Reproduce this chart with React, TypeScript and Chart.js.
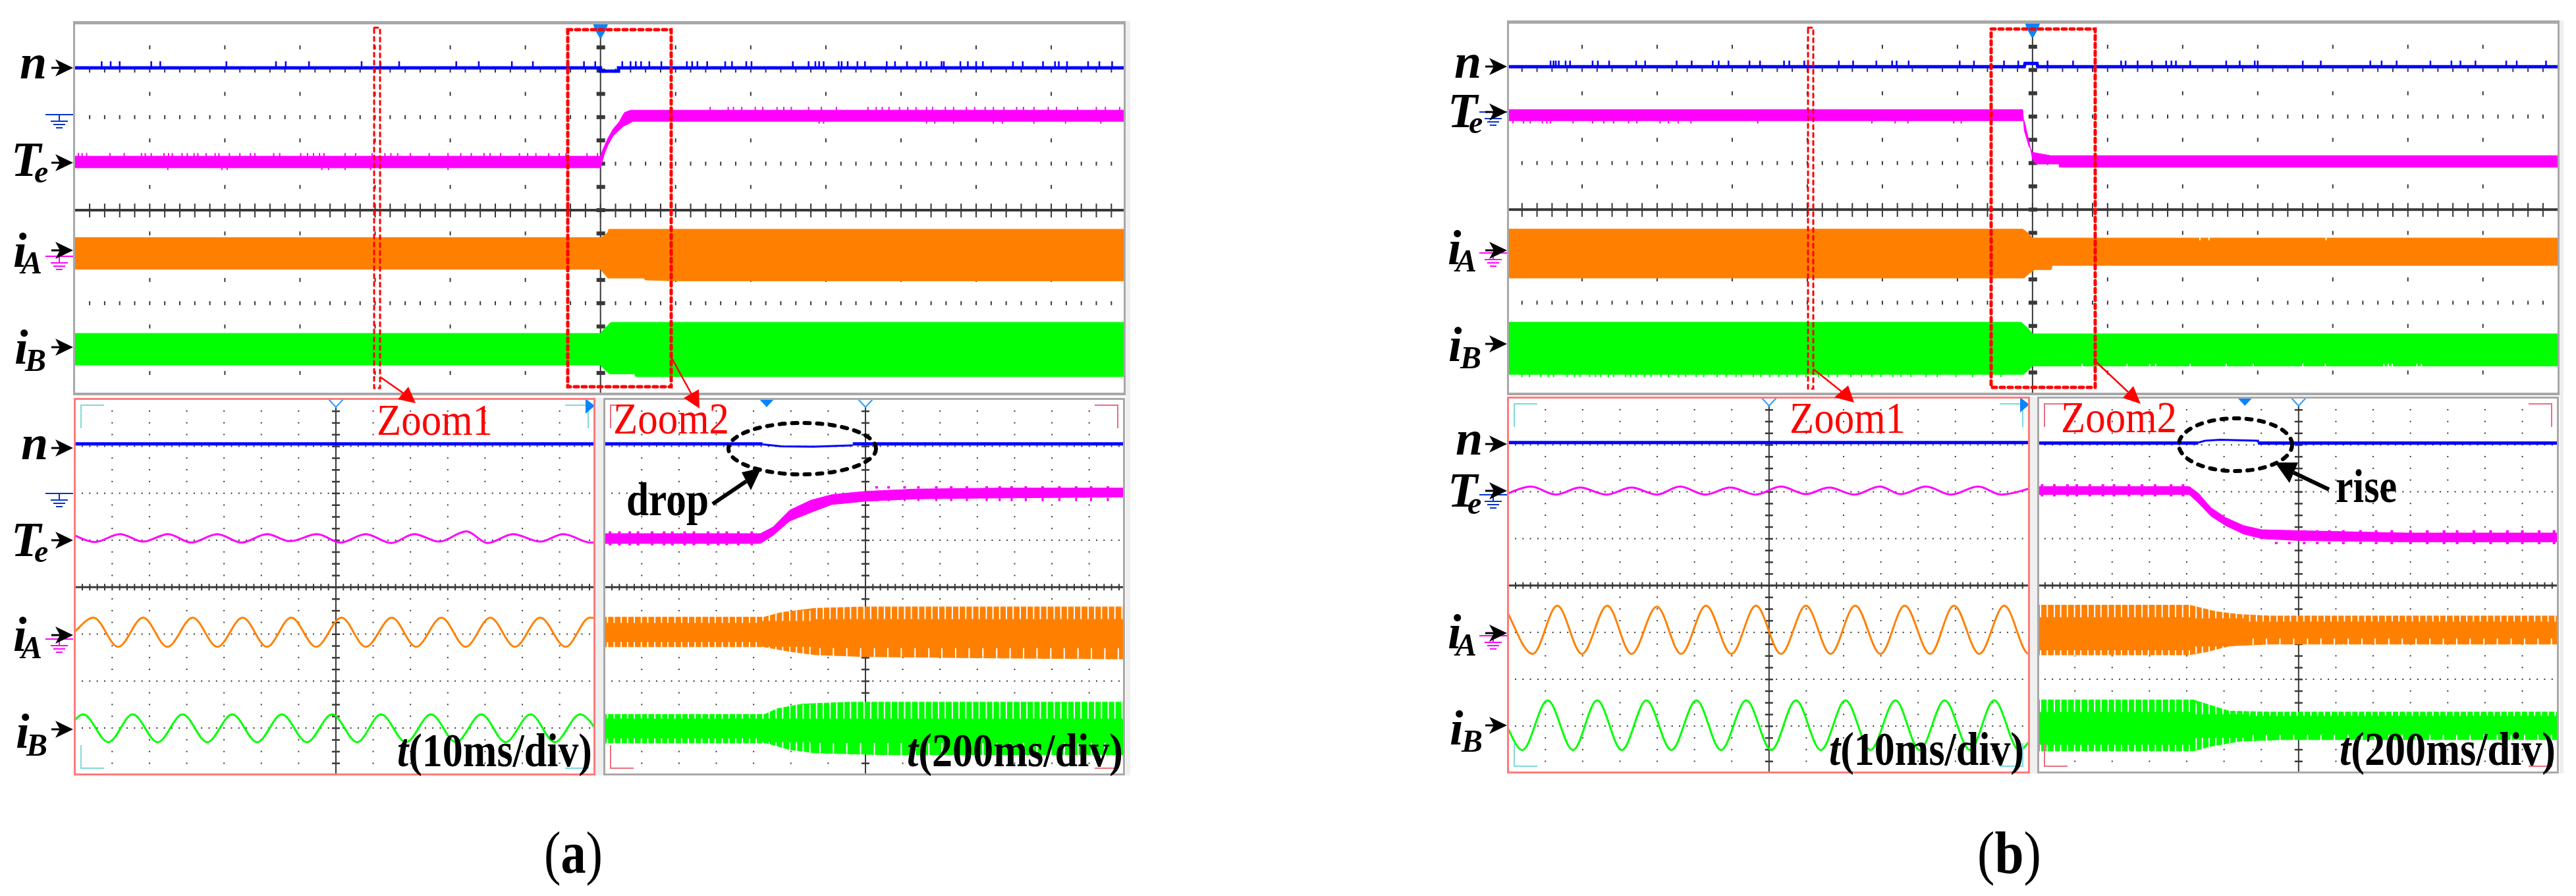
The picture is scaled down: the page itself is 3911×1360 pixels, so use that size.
import { useEffect, useRef } from "react"
import { Chart, registerables } from "chart.js"

Chart.register(...registerables)

type Pair = [number, number]

const BLUE = "#0000ff"
const MAGENTA = "#ff00ff"
const ORANGE = "#ff8000"
const GREEN = "#00ff00"
const GRAY = "#a8a8a8"
const SERIF = "'Liberation Serif', serif"

// ---- long record, figure (a), x and y in scope divisions ----
const topANLine: Pair[] = [[-7.1, 3.06], [0, 3.06], [0, 2.99], [0.24, 2.99], [0.24, 3.06], [7.1, 3.06]]
const topANSpikes = [-6.64, -6.52, -6.4, -5.98, -5.86, -4.98, -4.32, -4.19, -3.88, -3.18, -2.93, -2.68, -1.92, -1.62, -1.18, -0.9, -0.44, -0.22, -0.07, 0.29, 0.4, 0.47, 0.54, 0.65, 0.81, 1.15, 1.22, 1.29, 1.42, 1.66, 1.75, 1.94, 2.01, 2.56, 2.77, 2.86, 2.91, 2.97, 3.17, 3.21, 3.29, 3.42, 3.52, 3.81, 3.92, 4.08, 4.26, 4.34, 4.54, 4.57, 4.79, 4.89, 5.0, 5.09, 5.49, 5.62, 5.89, 6.05, 6.1, 6.21, 6.49, 6.64, 6.81]
const topATeUpper: Pair[] = [[-7.1, 1.16], [0, 1.16], [0.03, 1.3], [0.1, 1.55], [0.17, 1.75], [0.25, 1.9], [0.3, 2.05], [0.32, 2.1], [0.4, 2.15], [7.1, 2.15]]
const topATeLower: Pair[] = [[-7.1, 0.91], [0, 0.91], [0.05, 1.2], [0.1, 1.4], [0.17, 1.6], [0.3, 1.8], [0.4, 1.88], [0.43, 1.91], [7.1, 1.91]]
const topATeUpBefore = [-6.95, -6.9, -6.84, -6.53, -6.34, -6.11, -6.06, -5.98, -5.81, -5.75, -5.7, -5.57, -5.5, -5.41, -5.36, -5.25, -5.13, -5.08, -4.94, -4.8, -4.66, -4.6, -4.35, -4.27, -3.99, -3.9, -3.82, -3.74, -3.68, -3.4, -3.26, -3.04, -2.87, -2.79, -2.7, -2.53, -2.28, -2.03, -1.86, -1.72, -1.55, -1.47, -1.33, -1.08, -0.97, -0.86, -0.69, -0.55, -0.46, -0.18, -0.04]
const topATeUpAfter = [1.46, 1.7, 1.77, 1.88, 2.06, 2.16, 2.35, 2.44, 2.54, 2.77, 2.94, 3.14, 3.56, 3.67, 3.75, 3.84, 3.98, 4.09, 4.2, 4.34, 4.42, 4.59, 4.7, 4.87, 4.98, 5.12, 5.23, 5.37, 5.54, 5.63, 5.77, 5.96, 6.07, 6.35, 6.6, 6.72, 6.91]
const topATeDownBefore = [-5.76, -5.04, -4.97, -3.71, -3.62, -3.4, -3.06, -2.03]
const topATeDownAfter = [2.91, 2.97, 4.34, 4.45, 4.7, 5.23, 5.35, 5.77, 6.19, 6.66]
const topAIaUpper: Pair[] = [[-7.1, -0.59], [0, -0.59], [0.05, -0.55], [0.1, -0.47], [0.11, -0.41], [7.1, -0.41]]
const topAIaLower: Pair[] = [[-7.1, -1.27], [0, -1.27], [0.03, -1.33], [0.1, -1.46], [0.57, -1.46], [0.6, -1.5], [0.95, -1.52], [7.1, -1.52]]
const topAIbUpper: Pair[] = [[-7.1, -2.65], [0, -2.65], [0.05, -2.55], [0.14, -2.41], [7.1, -2.41]]
const topAIbLower: Pair[] = [[-7.1, -3.33], [0, -3.33], [0.05, -3.42], [0.12, -3.52], [0.45, -3.52], [0.47, -3.58], [7.1, -3.58]]

// ---- long record, figure (b) ----
const topBNLine: Pair[] = [[-7.1, 3.07], [-0.11, 3.07], [-0.1, 3.14], [0.06, 3.14], [0.07, 3.07], [7.1, 3.07]]
const topBNSpikes = [-6.42, -6.38, -6.35, -6.31, -6.22, -6.16, -5.86, -5.79, -5.64, -5.28, -5.16, -4.74, -4.54, -4.26, -4.18, -4.05, -3.77, -3.63, -3.31, -3.24, -3.04, -2.58, -2.39, -2.08, -1.87, -1.81, -1.65, -0.97, -0.78, -0.38, -0.19, 0.2, 0.54, 1.18, 1.24, 1.4, 1.59, 1.78, 1.85, 1.91, 2.1, 2.58, 2.76, 2.96, 3.0, 3.6, 3.84, 4.5, 4.65, 4.85, 5.3, 5.58, 5.7, 5.9, 6.31, 6.45, 6.84]
const topBTeUpper: Pair[] = [[-7.1, 2.15], [-0.13, 2.15], [-0.11, 1.7], [-0.05, 1.37], [0, 1.23], [0.24, 1.16], [7.1, 1.16]]
const topBTeLower: Pair[] = [[-7.1, 1.91], [-0.11, 1.91], [-0.05, 1.49], [0, 1.09], [0.04, 0.98], [0.35, 0.98], [0.36, 0.91], [7.1, 0.91]]
const topBTeDown = [-6.92, -6.78, -6.69, -6.53, -6.47, -6.42, -6.12, -5.86, -5.71, -5.58, -5.38, -5.27, -4.96, -4.85, -4.72, -4.55, -3.66, -2.14, -1.83, -1.66, -1.05, -0.95]
const topBIaUpper: Pair[] = [[-7.1, -0.42], [-0.13, -0.42], [-0.06, -0.5], [0, -0.61], [7.1, -0.61]]
const topBIaLower: Pair[] = [[-7.1, -1.47], [-0.11, -1.47], [-0.05, -1.38], [0.03, -1.29], [0.25, -1.29], [0.26, -1.2], [7.1, -1.2]]
const topBIaNotches = [2.23, 2.35, 3.91]
const topBIbUpper: Pair[] = [[-7.1, -2.42], [-0.15, -2.42], [-0.06, -2.55], [0, -2.67], [7.1, -2.67]]
const topBIbLower: Pair[] = [[-7.1, -3.54], [-0.12, -3.54], [-0.05, -3.44], [0, -3.36], [7.1, -3.36]]
const topBIbDown = [-6.8, -6.7, -6.55, -6.45, -6.38, -6.2, -6.1, -6.03, -5.9, -5.82, -5.75, -5.65, -5.58, -5.42, -5.35, -5.28, -5.17, -5.08, -4.95, -4.85, -4.72, -4.62, -4.48, -4.38, -4.2, -4.08, -3.95, -3.88, -3.72, -3.62, -3.5, -3.38, -3.27, -3.14, -3.02, -2.85, -2.72, -2.6, -2.42, -2.28, -2.14, -2.02, -1.86, -1.75, -1.62, -1.42, -1.27, -1.02, -0.8, -0.55, -0.42]
const topBIbNotches = [0.66, 1.26, 1.56, 1.64, 2.1, 2.58, 2.94, 3.6, 3.9, 4.68, 4.74, 4.79, 5.12, 5.18]

// ---- 10 ms/div zoom, figure (a): turning points of each wave ----
const zoomATeX = [-7.1, -6.47, -5.79, -5.17, -4.5, -3.88, -3.18, -2.53, -1.85, -1.23, -0.5, 0.12, 0.8, 1.48, 2.1, 2.77, 3.5, 4.07, 4.75, 5.48, 6.1, 6.83, 7.1]
const zoomATeY = [1.13, 0.96, 1.13, 0.97, 1.13, 0.95, 1.13, 0.95, 1.13, 0.98, 1.13, 0.95, 1.13, 0.94, 1.13, 0.97, 1.19, 0.94, 1.13, 0.97, 1.13, 0.95, 0.96]
const zoomAIaX = [-7.1, -6.5, -5.84, -5.17, -4.52, -3.84, -3.18, -2.5, -1.85, -1.2, -0.53, 0.15, 0.8, 1.5, 2.15, 2.83, 3.48, 4.14, 4.8, 5.48, 6.16, 6.81, 7.1]
const zoomAIaY = [-1.02, -0.65, -1.27, -0.65, -1.27, -0.65, -1.27, -0.65, -1.27, -0.65, -1.27, -0.65, -1.27, -0.65, -1.27, -0.65, -1.27, -0.65, -1.27, -0.65, -1.27, -0.65, -0.68]
const zoomAIbX = [-7.1, -6.78, -6.1, -5.45, -4.78, -4.11, -3.45, -2.78, -2.11, -1.45, -0.78, -0.1, 0.57, 1.21, 1.88, 2.55, 3.22, 3.9, 4.55, 5.22, 5.87, 6.55, 7.1]
const zoomAIbY = [-2.9, -2.71, -3.3, -2.71, -3.3, -2.71, -3.3, -2.71, -3.3, -2.71, -3.3, -2.71, -3.3, -2.71, -3.3, -2.71, -3.3, -2.71, -3.3, -2.71, -3.3, -2.71, -3.14]

// ---- 10 ms/div zoom, figure (b) ----
const zoomBTeX = [-7.1, -6.39, -5.72, -5.07, -4.36, -3.69, -3.01, -2.39, -1.71, -1.04, -0.36, 0.32, 0.99, 1.61, 2.29, 2.97, 3.53, 4.21, 4.88, 5.61, 6.23, 7.1]
const zoomBTeY = [1.94, 2.11, 1.94, 2.09, 1.94, 2.09, 1.94, 2.11, 1.94, 2.09, 1.94, 2.11, 1.95, 2.09, 1.94, 2.11, 1.95, 2.11, 1.94, 2.11, 1.94, 2.09]
const zoomBIaX = [-7.1, -6.34, -5.68, -5.02, -4.34, -3.69, -3.01, -2.36, -1.69, -1.01, -0.35, 0.32, 0.99, 1.65, 2.31, 2.99, 3.64, 4.32, 4.96, 5.64, 6.31, 6.97, 7.1]
const zoomBIaY = [-0.45, -1.46, -0.43, -1.46, -0.43, -1.46, -0.45, -1.46, -0.43, -1.46, -0.43, -1.46, -0.43, -1.46, -0.43, -1.46, -0.43, -1.46, -0.43, -1.46, -0.43, -1.46, -1.46]
const zoomBIbX = [-7.1, -6.62, -5.94, -5.26, -4.61, -3.95, -3.29, -2.62, -1.95, -1.29, -0.61, 0.06, 0.72, 1.39, 2.05, 2.72, 3.39, 4.04, 4.71, 5.39, 6.04, 6.71, 7.1]
const zoomBIbY = [-2.91, -3.51, -2.45, -3.51, -2.45, -3.51, -2.45, -3.51, -2.45, -3.51, -2.45, -3.51, -2.45, -3.51, -2.45, -3.51, -2.45, -3.51, -2.45, -3.51, -2.45, -3.51, -3.22]

// ---- 200 ms/div zoom, figure (a) ----
const slowANBefore: Pair[] = [[-7.1, 3.05], [-2.76, 3.05]]
const slowANDip: Pair[] = [[-2.76, 3.04], [-2.25, 3.0], [-1.4, 2.99], [-0.34, 3.02]]
const slowANAfter: Pair[] = [[-0.34, 3.05], [7.1, 3.05]]
const slowATeUpper: Pair[] = [[-7.1, 1.14], [-2.82, 1.14], [-2.48, 1.28], [-2.03, 1.64], [-1.47, 1.85], [-0.9, 1.97], [0, 2.04], [1.35, 2.09], [3.6, 2.11], [7.1, 2.11]]
const slowATeLower: Pair[] = [[-7.1, 0.93], [-2.82, 0.93], [-2.48, 1.1], [-2.03, 1.41], [-1.47, 1.59], [-0.9, 1.76], [0, 1.83], [1.35, 1.88], [3.6, 1.9], [7.1, 1.92]]
const slowATeJitterBefore = [-6.85, -6.6, -6.32, -6.1, -5.72, -5.4, -5.18, -4.85, -4.6, -4.22, -3.95, -3.72, -3.41, -3.05]
const slowATeJitterAfter = [0.3, 0.62, 1.05, 1.42, 1.9, 2.3, 2.72, 3.25, 3.6, 3.92, 4.3, 4.75, 5.2, 5.65, 6.05, 6.5]
const slowAIaUpper: Pair[] = [[-7.1, -0.64], [-2.72, -0.64], [-2.26, -0.54], [-1.35, -0.45], [0, -0.42], [7.1, -0.42]]
const slowAIaLower: Pair[] = [[-7.1, -1.27], [-2.72, -1.27], [-2.03, -1.37], [-1.35, -1.44], [0, -1.48], [3.6, -1.51], [7.1, -1.53]]
const slowAIbUpper: Pair[] = [[-7.1, -2.71], [-2.7, -2.71], [-2.37, -2.59], [-1.69, -2.49], [-0.45, -2.45], [7.1, -2.45]]
const slowAIbLower: Pair[] = [[-7.1, -3.32], [-2.65, -3.32], [-2.03, -3.46], [-1.35, -3.53], [0.5, -3.57], [7.1, -3.57]]

// ---- 200 ms/div zoom, figure (b) ----
const slowBNBefore: Pair[] = [[-7.1, 3.04], [-2.69, 3.04]]
const slowBNRise: Pair[] = [[-2.69, 3.05], [-2.5, 3.09], [-2.1, 3.11], [-1.09, 3.09], [-1.09, 3.05]]
const slowBNAfter: Pair[] = [[-1.09, 3.04], [7.1, 3.04]]
const slowBTeUpper: Pair[] = [[-7.1, 2.11], [-2.93, 2.11], [-2.69, 1.97], [-2.35, 1.66], [-1.96, 1.45], [-1.48, 1.28], [-0.99, 1.19], [0, 1.17], [2.89, 1.12], [7.1, 1.12]]
const slowBTeLower: Pair[] = [[-7.1, 1.94], [-2.93, 1.94], [-2.69, 1.76], [-2.35, 1.48], [-1.96, 1.28], [-1.48, 1.1], [-0.99, 1.0], [0, 0.96], [2.89, 0.93], [7.1, 0.93]]
const slowBTeJitterBefore = [-6.88, -6.55, -6.2, -5.95, -5.6, -5.25, -4.95, -4.55, -4.2, -3.85, -3.42, -3.1]
const slowBTeJitterAfter = [-0.6, -0.25, 0.15, 0.5, 0.82, 1.2, 1.66, 2.08, 2.5, 3.0, 3.45, 3.9, 4.25, 4.7, 5.15, 5.6, 6.0, 6.45, 6.85]
const slowBIaUpper: Pair[] = [[-7.1, -0.42], [-2.93, -0.42], [-2.2, -0.56], [-1.57, -0.62], [-0.8, -0.65], [7.1, -0.65]]
const slowBIaLower: Pair[] = [[-7.1, -1.48], [-2.93, -1.48], [-2.45, -1.41], [-1.86, -1.29], [-0.8, -1.25], [7.1, -1.25]]
const slowBIbUpper: Pair[] = [[-7.1, -2.44], [-2.83, -2.44], [-2.35, -2.56], [-1.86, -2.68], [-0.8, -2.7], [7.1, -2.7]]
const slowBIbLower: Pair[] = [[-7.1, -3.53], [-2.83, -3.53], [-2.35, -3.43], [-1.57, -3.32], [-0.5, -3.29], [7.1, -3.29]]

// PWM comb on the fast currents, read along the 200 ms/div records
const combBefore = [-6.92, -6.74, -6.55, -6.38, -6.2, -6.01, -5.84, -5.65, -5.47, -5.3, -5.11, -4.93, -4.75, -4.57, -4.39, -4.2, -4.03, -3.84, -3.66, -3.48, -3.3, -3.11, -2.93]
const combMid = [-2.75, -2.58, -2.4, -2.22, -2.03, -1.85, -1.67, -1.49]
const combAfter = [-1.31, -1.13, -0.95, -0.77, -0.58, -0.4, -0.22, -0.04, 0.14, 0.33, 0.51, 0.69, 0.87, 1.05, 1.23, 1.42, 1.6, 1.78, 1.96, 2.14, 2.33, 2.51, 2.69, 2.87, 3.05, 3.24, 3.42, 3.6, 3.78, 3.96, 4.15, 4.33, 4.51, 4.69, 4.87, 5.06, 5.24, 5.42, 5.6, 5.78, 5.97, 6.15, 6.33, 6.51, 6.69, 6.88]
const combSparse = [-1.22, -0.86, -0.5, -0.13, 0.24, 0.6, 0.96, 1.33, 1.7, 2.05, 2.42, 2.78, 3.15, 3.52, 3.88, 4.24, 4.6, 4.97, 5.33, 5.7, 6.06, 6.42, 6.78]

const pairs = (list: Pair[]) => list.map(([x, y]) => ({ x, y }))

const trace = (list: Pair[], color: string, borderWidth: number, extra = {}) => ({
  data: pairs(list),
  borderColor: color,
  backgroundColor: color,
  borderWidth,
  pointRadius: 0,
  tension: 0,
  fill: false,
  ...extra,
})

const band = (upper: Pair[], lower: Pair[], color: string) => [
  trace(upper, color, 1, { fill: "+1" }),
  trace(lower, color, 1),
]

const wave = (xs: number[], ys: number[], color: string, borderWidth: number) =>
  trace(xs.map((x, i): Pair => [x, ys[i]]), color, borderWidth, { cubicInterpolationMode: "monotone" })

// little vertical strokes, broken with null so that each stands alone
const strokes = (xs: number[], from: number, to: number, color: string, borderWidth = 2) => ({
  data: xs.flatMap((x) => [{ x, y: from }, { x, y: to }, { x, y: null }]),
  borderColor: color,
  backgroundColor: color,
  borderWidth,
  pointRadius: 0,
  tension: 0,
  fill: false,
  spanGaps: false,
})

const WHITE = "#ffffff"

// the first dataset is painted last, so strokes come before their band
const topADatasets = [
  trace(topANLine, BLUE, 5),
  strokes(topANSpikes, 3.06, 3.2, BLUE, 2.5),
  strokes(topATeUpBefore, 1.16, 1.23, MAGENTA),
  strokes(topATeUpAfter, 2.15, 2.22, MAGENTA),
  strokes(topATeDownBefore, 0.91, 0.86, MAGENTA),
  strokes(topATeDownAfter, 1.91, 1.86, MAGENTA),
  ...band(topATeUpper, topATeLower, MAGENTA),
  ...band(topAIaUpper, topAIaLower, ORANGE),
  ...band(topAIbUpper, topAIbLower, GREEN),
]

const topBDatasets = [
  trace(topBNLine, BLUE, 5),
  strokes(topBNSpikes, 3.07, 3.2, BLUE, 2.5),
  strokes(topBTeDown, 1.91, 1.85, MAGENTA),
  strokes(topBIaNotches, -0.6, -0.66, WHITE),
  strokes(topBIbDown, -3.54, -3.6, GREEN),
  strokes(topBIbNotches, -3.37, -3.31, WHITE),
  ...band(topBTeUpper, topBTeLower, MAGENTA),
  ...band(topBIaUpper, topBIaLower, ORANGE),
  ...band(topBIbUpper, topBIbLower, GREEN),
]

const zoomADatasets = [
  trace([[-7.1, 3.05], [7.1, 3.05]], BLUE, 5),
  wave(zoomATeX, zoomATeY, MAGENTA, 3),
  wave(zoomAIaX, zoomAIaY, ORANGE, 3),
  wave(zoomAIbX, zoomAIbY, GREEN, 3),
]

const zoomBDatasets = [
  trace([[-7.1, 3.05], [7.1, 3.05]], BLUE, 5),
  wave(zoomBTeX, zoomBTeY, MAGENTA, 3),
  wave(zoomBIaX, zoomBIaY, ORANGE, 3),
  wave(zoomBIbX, zoomBIbY, GREEN, 3),
]

const slowADatasets = [
  trace(slowANBefore, BLUE, 5),
  trace(slowANDip, BLUE, 3),
  trace(slowANAfter, BLUE, 5),
  strokes(slowATeJitterBefore, 1.14, 1.19, MAGENTA, 4),
  strokes(slowATeJitterBefore, 0.93, 0.89, MAGENTA, 4),
  strokes(slowATeJitterAfter, 2.1, 2.15, MAGENTA, 4),
  strokes(slowATeJitterAfter, 1.9, 1.83, MAGENTA, 3),
  strokes(combBefore, -0.62, -0.76, WHITE),
  strokes(combBefore, -1.29, -1.17, WHITE),
  strokes(combMid, -0.5, -0.72, WHITE),
  strokes(combMid, -1.5, -1.27, WHITE),
  strokes(combAfter, -0.4, -0.68, WHITE),
  strokes(combSparse, -1.56, -1.3, WHITE),
  strokes(combBefore, -2.69, -2.8, WHITE),
  strokes(combBefore, -3.34, -3.22, WHITE),
  strokes(combMid, -2.5, -2.8, WHITE),
  strokes(combMid, -3.55, -3.3, WHITE),
  strokes(combAfter, -2.43, -2.8, WHITE),
  strokes(combSparse, -3.59, -3.32, WHITE),
  ...band(slowATeUpper, slowATeLower, MAGENTA),
  ...band(slowAIaUpper, slowAIaLower, ORANGE),
  ...band(slowAIbUpper, slowAIbLower, GREEN),
]

const slowBDatasets = [
  trace(slowBNBefore, BLUE, 5),
  trace(slowBNRise, BLUE, 3),
  trace(slowBNAfter, BLUE, 5),
  strokes(slowBTeJitterBefore, 2.11, 2.16, MAGENTA, 4),
  strokes(slowBTeJitterBefore, 1.94, 1.9, MAGENTA, 4),
  strokes(slowBTeJitterAfter, 1.12, 1.18, MAGENTA, 4),
  strokes(slowBTeJitterAfter, 0.93, 0.88, MAGENTA, 4),
  strokes(combBefore, -0.4, -0.68, WHITE),
  strokes(combBefore, -1.5, -1.38, WHITE),
  strokes(combMid, -0.45, -0.7, WHITE),
  strokes(combMid, -1.45, -1.3, WHITE),
  strokes(combAfter, -0.63, -0.77, WHITE),
  strokes(combSparse, -1.27, -1.13, WHITE),
  strokes(combBefore, -2.42, -2.7, WHITE),
  strokes(combBefore, -3.55, -3.4, WHITE),
  strokes(combMid, -2.5, -2.75, WHITE),
  strokes(combMid, -3.5, -3.25, WHITE),
  strokes(combAfter, -2.68, -2.78, WHITE),
  strokes(combSparse, -3.31, -3.18, WHITE),
  ...band(slowBTeUpper, slowBTeLower, MAGENTA),
  ...band(slowBIaUpper, slowBIaLower, ORANGE),
  ...band(slowBIbUpper, slowBIbLower, GREEN),
]

interface PanelProps {
  left: number
  top: number
  width: number
  height: number
  xRange: Pair
  yRange: Pair
  style: "long" | "zoom"
  frame: string
  corner?: string
  cursor?: number
  sideMark?: boolean
  datasets: any[]
}

const MAJOR_ROWS = [3, 2, 1, -1, -2, -3]

function makeGraticule(p: PanelProps) {
  return {
    id: "graticule",
    beforeDatasetsDraw(chart: any) {
      const { ctx, chartArea: a } = chart
      const sx = chart.scales.x
      const sy = chart.scales.y
      const px = (v: number) => sx.getPixelForValue(v)
      const py = (v: number) => sy.getPixelForValue(v)
      ctx.save()
      ctx.fillStyle = "#383838"
      if (p.style === "long") {
        for (let x = -6; x <= 6; x++) {
          if (x === 0) continue
          for (const y of [3.5, 2.5, 1.5, 0.5, -0.5, -1.5, -2.5, -3.5]) ctx.fillRect(px(x) - 1, py(y) - 3, 2, 6)
        }
        for (const y of MAJOR_ROWS) {
          for (let i = -34; i <= 34; i++) ctx.fillRect(px(i * 0.2) - 1, py(y) - 3, 2, 6)
        }
        ctx.fillRect(px(0) - 1, a.top, 2, a.bottom - a.top)
        for (let i = -7; i <= 7; i++) ctx.fillRect(px(0) - 6, py(i * 0.5) - 3, 13, 6)
        for (let i = -34; i <= 34; i++) ctx.fillRect(px(i * 0.2) - 1, py(0) - 10, 2, 21)
        ctx.fillRect(a.left, py(0) - 2, a.right - a.left, 4)
      } else {
        for (let x = -6; x <= 6; x++) {
          if (x === 0) continue
          for (let i = -15; i <= 15; i++) {
            if (i % 4 !== 0) ctx.fillRect(px(x) - 1, py(i * 0.25) - 1, 2, 2)
          }
        }
        for (const y of MAJOR_ROWS) {
          for (let i = -34; i <= 34; i++) ctx.fillRect(px(i * 0.2) - 1, py(y) - 1, 2, 2)
        }
        ctx.fillRect(px(0) - 1, a.top, 2, a.bottom - a.top)
        for (let i = -15; i <= 15; i++) ctx.fillRect(px(0) - 6, py(i * 0.25) - 1, 12, 2.5)
        for (let i = -34; i <= 34; i++) ctx.fillRect(px(i * 0.2) - 1, py(0) - 5, 2, 10)
        ctx.fillRect(a.left, py(0) - 1.5, a.right - a.left, 3)
      }
      ctx.restore()
    },
    afterDatasetsDraw(chart: any) {
      const { ctx, chartArea: a } = chart
      const sx = chart.scales.x
      const cx = sx.getPixelForValue(0)
      ctx.save()
      // corner brackets of the zoom windows
      if (p.corner) {
        const inset = 11
        const len = 35
        ctx.strokeStyle = p.corner
        ctx.lineWidth = 2
        ctx.beginPath()
        for (const [ex, ey, dx, dy] of [
          [a.left + inset, a.top + inset, 1, 1],
          [a.right - inset, a.top + inset, -1, 1],
          [a.left + inset, a.bottom - inset, 1, -1],
          [a.right - inset, a.bottom - inset, -1, -1],
        ]) {
          ctx.moveTo(ex + dx * len, ey)
          ctx.lineTo(ex, ey)
          ctx.lineTo(ex, ey + dy * len)
        }
        ctx.stroke()
      }
      // trigger marks along the top edge
      if (p.style === "long") {
        ctx.fillStyle = "#0a84ff"
        ctx.beginPath()
        ctx.moveTo(cx - 13, a.top)
        ctx.lineTo(cx + 13, a.top)
        ctx.lineTo(cx + 8, a.top + 14)
        ctx.lineTo(cx + 1, a.top + 26)
        ctx.lineTo(cx - 1, a.top + 26)
        ctx.lineTo(cx - 8, a.top + 14)
        ctx.closePath()
        ctx.fill()
      } else {
        ctx.strokeStyle = "#2a9bff"
        ctx.fillStyle = WHITE
        ctx.lineWidth = 2
        ctx.beginPath()
        ctx.moveTo(cx - 12, a.top + 1)
        ctx.lineTo(cx + 12, a.top + 1)
        ctx.lineTo(cx, a.top + 14)
        ctx.closePath()
        ctx.fill()
        ctx.stroke()
      }
      if (p.cursor !== undefined) {
        const mx = sx.getPixelForValue(p.cursor)
        ctx.fillStyle = "#0a84ff"
        ctx.beginPath()
        ctx.moveTo(mx - 13, a.top)
        ctx.lineTo(mx + 13, a.top)
        ctx.lineTo(mx, a.top + 14)
        ctx.closePath()
        ctx.fill()
      }
      if (p.sideMark) {
        ctx.fillStyle = "#0a84ff"
        ctx.beginPath()
        ctx.moveTo(a.right - 15, a.top + 1)
        ctx.lineTo(a.right - 1, a.top + 12)
        ctx.lineTo(a.right - 15, a.top + 24)
        ctx.closePath()
        ctx.fill()
      }
      // frame
      ctx.strokeStyle = p.frame
      ctx.lineWidth = 3
      ctx.strokeRect(a.left + 1.5, a.top + 1.5, a.right - a.left - 3, a.bottom - a.top - 3)
      if (p.style === "long") {
        ctx.fillStyle = p.frame
        ctx.fillRect(a.left, a.top, a.right - a.left, 5)
        ctx.fillRect(a.left, a.bottom - 4, a.right - a.left, 4)
      }
      ctx.restore()
    },
  }
}

function ScopePanel(props: PanelProps) {
  const canvasRef = useRef<HTMLCanvasElement | null>(null)

  useEffect(() => {
    if (!canvasRef.current) return
    const chart = new Chart(canvasRef.current, {
      type: "line",
      data: { datasets: props.datasets },
      options: {
        animation: false,
        responsive: false,
        devicePixelRatio: 1,
        layout: { padding: 0 },
        scales: {
          x: { type: "linear", min: props.xRange[0], max: props.xRange[1], display: false },
          y: { type: "linear", min: props.yRange[0], max: props.yRange[1], display: false },
        },
        plugins: { legend: { display: false }, tooltip: { enabled: false } },
      },
      plugins: [makeGraticule(props)],
    })
    return () => chart.destroy()
  }, [])

  return (
    <canvas
      ref={canvasRef}
      width={props.width}
      height={props.height}
      style={{ position: "absolute", left: props.left, top: props.top, width: props.width, height: props.height }}
    />
  )
}

function Label(props: { x: number; y: number; main: string; sub?: string; subDx?: number; subY?: number }) {
  return (
    <g fontFamily={SERIF} fontWeight="bold" fontStyle="italic" fill="#000">
      <text x={props.x} y={props.y} fontSize={74}>{props.main}</text>
      {props.sub && <text x={props.x + (props.subDx ?? 18)} y={props.subY} fontSize={48}>{props.sub}</text>}
    </g>
  )
}

function InArrow({ x, y }: { x: number; y: number }) {
  return (
    <g>
      <line x1={x - 33} y1={y} x2={x - 10} y2={y} stroke="#000" strokeWidth={3} />
      <polygon points={`${x},${y} ${x - 27},${y + 13} ${x - 20},${y} ${x - 27},${y - 13}`} fill="#000" />
    </g>
  )
}

function Ground({ x, y, color }: { x: number; y: number; color: string }) {
  return (
    <g stroke={color} strokeWidth={2}>
      <line x1={x - 42} y1={y} x2={x} y2={y} />
      <line x1={x - 21} y1={y} x2={x - 21} y2={y + 10} />
      <line x1={x - 34} y1={y + 10} x2={x - 8} y2={y + 10} />
      <line x1={x - 30} y1={y + 15} x2={x - 12} y2={y + 15} />
      <line x1={x - 26} y1={y + 20} x2={x - 16} y2={y + 20} />
    </g>
  )
}

function ZoomBox({ x, y, w, h, weight = 5 }: { x: number; y: number; w: number; h: number; weight?: number }) {
  return <rect x={x} y={y} width={w} height={h} fill="none" stroke="#ff0000" strokeWidth={weight} strokeDasharray="6 6" strokeLinecap="round" />
}

function Pointer(props: { from: Pair; tip: Pair; a: Pair; b: Pair; color: string; width: number }) {
  const { from, tip, a, b, color, width } = props
  return (
    <g>
      <line x1={from[0]} y1={from[1]} x2={(a[0] + b[0]) / 2} y2={(a[1] + b[1]) / 2} stroke={color} strokeWidth={width} />
      <polygon points={`${tip[0]},${tip[1]} ${a[0]},${a[1]} ${b[0]},${b[1]}`} fill={color} />
    </g>
  )
}

// the original lettering is tall and narrow, so the glyphs are squeezed to the read width
function Time({ x, y, text, width }: { x: number; y: number; text: string; width: number }) {
  return (
    <text x={x} y={y} fontFamily={SERIF} fontWeight="bold" fontSize={72} fill="#000" textLength={width} lengthAdjust="spacingAndGlyphs">
      <tspan fontStyle="italic">t</tspan>
      {text}
    </text>
  )
}

function Caption({ x, y, letter, width }: { x: number; y: number; letter: string; width: number }) {
  return (
    <text x={x} y={y} fontFamily={SERIF} fontSize={92} fill="#000" textLength={width} lengthAdjust="spacingAndGlyphs">
      (<tspan fontWeight="bold">{letter}</tspan>)
    </text>
  )
}

function RedText({ x, y, text }: { x: number; y: number; text: string }) {
  return <text x={x} y={y} fontFamily={SERIF} fontSize={68} fill="#ff0000" textLength={176} lengthAdjust="spacingAndGlyphs">{text}</text>
}

function BoldText({ x, y, text, width }: { x: number; y: number; text: string; width: number }) {
  return <text x={x} y={y} fontFamily={SERIF} fontWeight="bold" fontSize={72} fill="#000" textLength={width} lengthAdjust="spacingAndGlyphs">{text}</text>
}

export default function App() {
  return (
    <div style={{ position: "absolute", left: 0, top: 0, width: 3911, height: 1360, background: "#fff", overflow: "hidden" }}>
      <div style={{ position: "absolute", left: 1709, top: 32, width: 7, height: 1145, background: "#efefef" }} />
      <div style={{ position: "absolute", left: 904, top: 604, width: 12, height: 573, background: "#efefef" }} />
      <div style={{ position: "absolute", left: 3886, top: 31, width: 6, height: 1143, background: "#efefef" }} />
      <div style={{ position: "absolute", left: 3082, top: 602, width: 11, height: 572, background: "#efefef" }} />

      <ScopePanel left={111} top={32} width={1598} height={568} xRange={[-7.02, 6.99]} yRange={[-3.98, 4.065]} style="long" frame={GRAY} datasets={topADatasets} />
      <ScopePanel left={112} top={604} width={792} height={573} xRange={[-7.03, 6.96]} yRange={[-4.01, 4.03]} style="zoom" frame="#ff7a7a" corner="#7fd9d9" sideMark datasets={zoomADatasets} />
      <ScopePanel left={916} top={604} width={792} height={573} xRange={[-7.03, 6.96]} yRange={[-4.01, 4.03]} style="zoom" frame={GRAY} corner="#e8707f" cursor={-2.65} datasets={slowADatasets} />
      <ScopePanel left={2288} top={31} width={1598} height={569} xRange={[-7, 7.02]} yRange={[-3.99, 4.065]} style="long" frame={GRAY} datasets={topBDatasets} />
      <ScopePanel left={2288} top={602} width={794} height={572} xRange={[-7.03, 7]} yRange={[-4.01, 4.03]} style="zoom" frame="#ff7a7a" corner="#7fd9d9" sideMark datasets={zoomBDatasets} />
      <ScopePanel left={3093} top={602} width={792} height={572} xRange={[-7.01, 6.98]} yRange={[-4.01, 4.03]} style="zoom" frame={GRAY} corner="#e8707f" cursor={-1.44} datasets={slowBDatasets} />

      <svg width={3911} height={1360} style={{ position: "absolute", left: 0, top: 0 }}>
        <Ground x={111} y={174} color="#0033cc" />
        <Ground x={111} y={389} color={MAGENTA} />
        <Ground x={111} y={749} color="#0033cc" />
        <Ground x={111} y={970} color={MAGENTA} />
        <Ground x={2288} y={170} color="#0033cc" />
        <Ground x={2288} y={384} color={MAGENTA} />
        <Ground x={2288} y={751} color="#0033cc" />
        <Ground x={2288} y={965} color={MAGENTA} />

        {[103, 247, 380, 527, 680, 820, 964, 1107].map((y) => <InArrow key={y} x={111} y={y} />)}
        {[101, 170, 380, 522, 674, 745, 961, 1101].map((y) => <InArrow key={y} x={2288} y={y} />)}

        <Label x={30} y={119} main="n" />
        <Label x={17} y={267} main="T" sub="e" subDx={35} subY={277} />
        <Label x={20} y={405} main="i" sub="A" subDx={12} subY={415} />
        <Label x={22} y={552} main="i" sub="B" subDx={16} subY={563} />
        <Label x={32} y={697} main="n" />
        <Label x={17} y={844} main="T" sub="e" subDx={35} subY={853} />
        <Label x={20} y={988} main="i" sub="A" subDx={12} subY={999} />
        <Label x={24} y={1135} main="i" sub="B" subDx={16} subY={1147} />
        <Label x={2208} y={118} main="n" />
        <Label x={2198} y={193} main="T" sub="e" subDx={32} subY={202} />
        <Label x={2198} y={401} main="i" sub="A" subDx={12} subY={412} />
        <Label x={2199} y={548} main="i" sub="B" subDx={18} subY={559} />
        <Label x={2210} y={690} main="n" />
        <Label x={2198} y={769} main="T" sub="e" subDx={30} subY={780} />
        <Label x={2198} y={984} main="i" sub="A" subDx={12} subY={995} />
        <Label x={2201} y={1130} main="i" sub="B" subDx={18} subY={1141} />

        <ZoomBox x={568} y={42} w={9} h={547} weight={3} />
        <ZoomBox x={862} y={45} w={157} h={542} />
        <ZoomBox x={2745} y={42} w={8} h={548} weight={3} />
        <ZoomBox x={3023} y={44} w={158} h={544} />

        <Pointer from={[577, 572]} tip={[631, 612]} a={[620, 587]} b={[604, 606]} color="#ff0000" width={2.5} />
        <Pointer from={[1019, 542]} tip={[1062, 620]} a={[1061, 591]} b={[1038, 604]} color="#ff0000" width={2.5} />
        <Pointer from={[2753, 560]} tip={[2815, 611]} a={[2806, 585]} b={[2785, 603]} color="#ff0000" width={2.5} />
        <Pointer from={[3181, 548]} tip={[3250, 613]} a={[3239, 586]} b={[3223, 604]} color="#ff0000" width={2.5} />

        <RedText x={572} y={660} text="Zoom1" />
        <RedText x={931} y={658} text="Zoom2" />
        <RedText x={2717} y={657} text="Zoom1" />
        <RedText x={3129} y={656} text="Zoom2" />

        <ellipse cx={1218} cy={681} rx={112} ry={39} fill="none" stroke="#000" strokeWidth={6} strokeDasharray="8 11" strokeLinecap="round" />
        <ellipse cx={3394} cy={675} rx={86} ry={40} fill="none" stroke="#000" strokeWidth={6} strokeDasharray="8 11" strokeLinecap="round" />
        <Pointer from={[1082, 765]} tip={[1156, 710]} a={[1126, 717]} b={[1140, 744]} color="#000" width={6} />
        <Pointer from={[3536, 743]} tip={[3454, 702]} a={[3489, 702]} b={[3476, 733]} color="#000" width={6} />
        <BoldText x={951} y={782} text="drop" width={125} />
        <BoldText x={3546} y={762} text="rise" width={93} />

        <Time x={603} y={1163} text="(10ms/div)" width={296} />
        <Time x={1377} y={1163} text="(200ms/div)" width={328} />
        <Time x={2777} y={1161} text="(10ms/div)" width={296} />
        <Time x={3552} y={1161} text="(200ms/div)" width={328} />

        <Caption x={826} y={1325} letter="a" width={89} />
        <Caption x={3002} y={1325} letter="b" width={97} />
      </svg>
    </div>
  )
}
